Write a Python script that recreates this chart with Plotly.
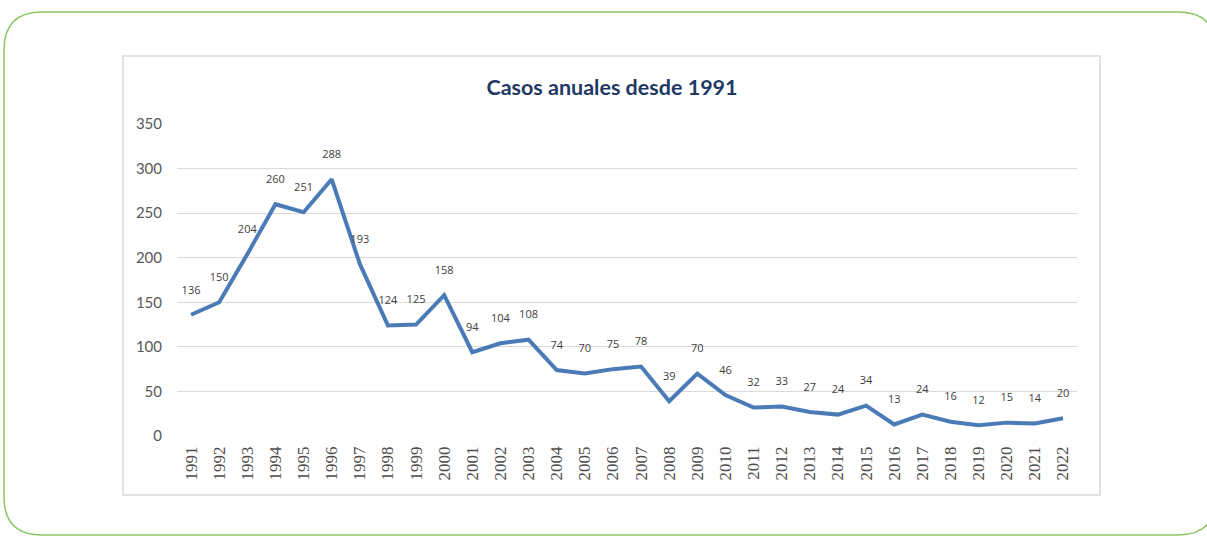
import plotly.graph_objects as go

years = [str(y) for y in range(1991, 2023)]
cases = [136, 150, 204, 260, 251, 288, 193, 124, 125, 158, 94, 104, 108, 74, 70,
         75, 78, 39, 70, 46, 32, 33, 27, 24, 34, 13, 24, 16, 12, 15, 14, 20]
title_text = "Casos anuales desde 1991"
y_ticks = [0, 50, 100, 150, 200, 250, 300, 350]

W, H = 1207, 536
L, R, T, B = 177, 1077, 124, 436  # plot area in pixels


def px(x):
    return (x - L) / (R - L)


def py(y):
    return (B - y) / (B - T)


fig = go.Figure()
fig.add_trace(go.Scatter(
    x=years, y=cases, mode="lines+markers+text",
    text=[str(v) for v in cases], textposition="top center",
    textfont=dict(family="Open Sans, sans-serif", size=11, color="#404040"),
    line=dict(color="#4a7bb7", width=4),
    marker=dict(size=28, color="rgba(0,0,0,0)"),
    cliponaxis=False, hoverinfo="x+y", showlegend=False,
))

# outer rounded green frame
r = 38
x0, y0, x1, y1 = 4, 12, 1216, 535
path = (f"M {px(x0 + r)},{py(y0)} L {px(x1 - r)},{py(y0)} "
        f"Q {px(x1)},{py(y0)} {px(x1)},{py(y0 + r)} "
        f"L {px(x1)},{py(y1 - r)} Q {px(x1)},{py(y1)} {px(x1 - r)},{py(y1)} "
        f"L {px(x0 + r)},{py(y1)} Q {px(x0)},{py(y1)} {px(x0)},{py(y1 - r)} "
        f"L {px(x0)},{py(y0 + r)} Q {px(x0)},{py(y0)} {px(x0 + r)},{py(y0)} Z")

shapes = [
    dict(type="path", xref="paper", yref="paper", path=path,
         line=dict(color="#8cc665", width=1.5), layer="below"),
    # inner chart box
    dict(type="rect", xref="paper", yref="paper",
         x0=px(123), x1=px(1100), y0=py(56), y1=py(495),
         line=dict(color="#d9d9d9", width=1.5), layer="below"),
]

fig.update_layout(
    width=W, height=H,
    margin=dict(l=L, r=W - R, t=T, b=H - B, pad=0),
    paper_bgcolor="white", plot_bgcolor="white",
    shapes=shapes,
    title=dict(text=f"<b>{title_text}</b>", xref="container", x=612 / W, xanchor="center",
               yref="container", y=1 - 87 / H, yanchor="middle",
               font=dict(family="Lato, Open Sans, sans-serif", size=21.5, color="#1f3864")),
    xaxis=dict(type="category", tickangle=-90, showgrid=False, showline=False,
               ticks="", zeroline=False, range=[-0.5, len(years) - 0.5],
               ticklabelstandoff=6,
               tickfont=dict(family="Liberation Serif", size=17, color="#4d4d4d")),
    yaxis=dict(range=[0, 350], tickvals=y_ticks, showgrid=True, gridcolor="#d9d9d9",
               gridwidth=1, zeroline=False, showline=False, ticks="", ticklabelstandoff=14,
               tickfont=dict(family="Lato, Open Sans, sans-serif", size=15, color="#595959")),
)

fig.write_html("out.html", config={"displayModeBar": False},
               post_script="document.body.style.margin='0';")
